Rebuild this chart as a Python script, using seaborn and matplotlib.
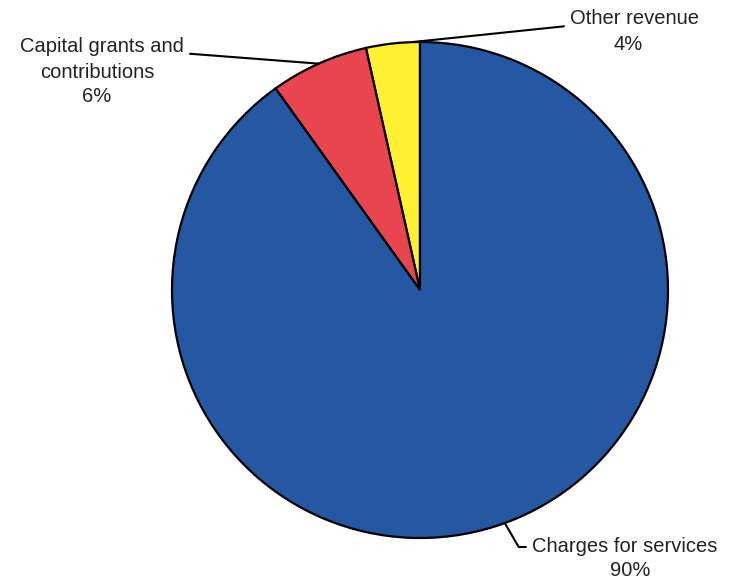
import numpy as np
import matplotlib
matplotlib.use("Agg")
import matplotlib.pyplot as plt
import seaborn as sns

categories = ["Other revenue", "Capital grants and contributions", "Charges for services"]
values = [3.5, 6.4, 90.1]
pct_labels = ["4%", "6%", "90%"]
colors = ["#FFF133", "#E8464E", "#2558A3"]

sns.set_theme(style="white")
plt.rcParams["font.family"] = ["Liberation Sans", "DejaVu Sans"]

W, H = 730, 579
fig = plt.figure(figsize=(W / 100, H / 100), dpi=100)
fig.patch.set_facecolor("white")

cx, cy, r = 420, 290, 248
ax = fig.add_axes([(cx - r) / W, (H - cy - r) / H, 2 * r / W, 2 * r / H])
wedges, _ = ax.pie(values, colors=colors, startangle=90, counterclock=True,
                   radius=1.0, wedgeprops=dict(edgecolor="black", linewidth=1.6))
ax.set_xlim(-1, 1)
ax.set_ylim(-1, 1)
ax.set_aspect("auto")
ax.axis("off")


def fpx(x, y):
    return (x / W, 1 - y / H)


def edge(w, frac):
    ang = np.deg2rad(w.theta1 + frac * (w.theta2 - w.theta1))
    return (np.cos(ang), np.sin(ang))


fs = 14.5
tc = "#222222"
line_kw = dict(arrowstyle="-", color="black", lw=1.5, shrinkA=2, shrinkB=0)

# Other revenue
ax.annotate(categories[0], xy=edge(wedges[0], 0.15), xycoords="data",
            xytext=fpx(570, 19), textcoords="figure fraction",
            ha="left", va="center", fontsize=fs, color=tc,
            arrowprops=dict(**line_kw, connectionstyle="arc3,rad=0"))
fig.text(*fpx(628, 44), pct_labels[0], ha="center", va="center", fontsize=fs, color=tc)

# Capital grants and contributions
ax.annotate("Capital grants and", xy=edge(wedges[1], 0.5), xycoords="data",
            xytext=fpx(184, 47), textcoords="figure fraction",
            ha="right", va="center", fontsize=fs, color=tc,
            arrowprops=dict(**line_kw, connectionstyle="arc3,rad=0"))
fig.text(*fpx(97, 72), "contributions", ha="center", va="center", fontsize=fs, color=tc)
fig.text(*fpx(97, 96), pct_labels[1], ha="center", va="center", fontsize=fs, color=tc)

# Charges for services
ang_c = np.deg2rad(-70)
ax.annotate(categories[2], xy=(np.cos(ang_c), np.sin(ang_c)), xycoords="data",
            xytext=fpx(532, 547), textcoords="figure fraction",
            ha="left", va="center", fontsize=fs, color=tc,
            arrowprops=dict(**line_kw, connectionstyle="angle,angleA=0,angleB=120,rad=0"))
fig.text(*fpx(630, 570), pct_labels[2], ha="center", va="center", fontsize=fs, color=tc)

fig.savefig("out.png", dpi=100, facecolor="white")
